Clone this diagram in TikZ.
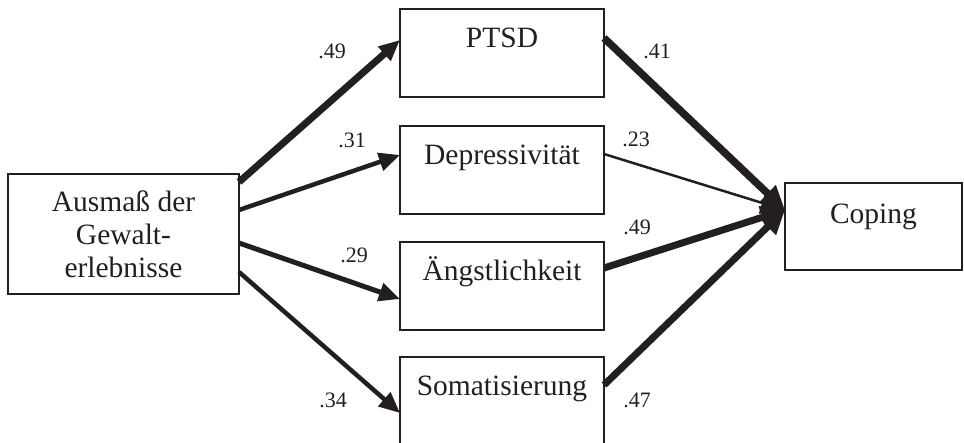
\documentclass[tikz,border=0pt]{standalone}
\usepackage{fontspec}
\setmainfont{Liberation Serif}
\definecolor{inkblack}{RGB}{35,31,32}
\usetikzlibrary{arrows.meta, positioning}

\begin{document}
\begin{tikzpicture}[
  x=1pt, y=-1pt,
  srcbox/.style={draw=inkblack, line width=1.3pt, inner sep=0pt, outer sep=0pt, minimum width=231pt, minimum height=120pt, align=center, text=inkblack, font=\fontsize{29.5}{33}\selectfont},
  varbox/.style={draw=inkblack, line width=1.3pt, inner sep=0pt, outer sep=0pt, minimum width=204pt, text height=38pt, text depth=50pt, text=inkblack, font=\fontsize{29.5}{33}\selectfont},
  numlbl/.style={inner sep=0pt, text=inkblack, font=\fontsize{22}{24}\selectfont},
  effarrow/.style={draw=inkblack, -{Triangle[length=21pt, width=18pt]}},
  bigarrow/.style={draw=inkblack, -{Triangle[length=24pt, width=22pt]}}
]
  \useasboundingbox (0,0) rectangle (964,442);
  \clip (0,0) rectangle (964,442);

  \node[srcbox] (gewalt) at (123.5,234) {Ausmaß der\\Gewalt-\\erlebnisse};

  \node[varbox] (ptsd) at (502,53) {PTSD};
  \node[varbox] (depr) at (502,170) {Depressivität};
  \node[varbox] (angst) at (502,286) {Ängstlichkeit};
  \node[varbox] (somat) at (502,401) {Somatisierung};

  \node[varbox, minimum width=177pt, text height=40pt, text depth=47pt] (coping) at (873.5,226.5) {Coping};

  % Gewalt -> Mediatoren
  \draw[effarrow, line width=7pt] ([yshift=52pt]gewalt.east) -- ([yshift=13pt]ptsd.west);
  \draw[effarrow, line width=4.5pt] ([yshift=24pt]gewalt.east) -- ([yshift=15pt]depr.west);
  \draw[effarrow, line width=5pt] ([yshift=-9pt]gewalt.east) -- ([yshift=-13pt]angst.west);
  \draw[effarrow, line width=4.5pt] ([yshift=-38pt]gewalt.east) -- ([yshift=-12pt]somat.west);

  % Mediatoren -> Coping
  \draw[bigarrow, line width=7.5pt] ([yshift=15pt]ptsd.east) -- ([yshift=16.5pt]coping.west);
  \draw[bigarrow, line width=2.5pt] ([yshift=16pt]depr.east) -- ([yshift=16.5pt]coping.west);
  \draw[bigarrow, line width=7pt] ([yshift=18pt]angst.east) -- ([yshift=16.5pt]coping.west);
  \draw[bigarrow, line width=7pt] ([yshift=16pt]somat.east) -- ([yshift=16.5pt]coping.west);

  \node[numlbl] (a1) at (332,51) {.49};
  \node[numlbl] (a2) at (352,140) {.31};
  \node[numlbl] (a3) at (354,255) {.29};
  \node[numlbl] (a4) at (333,400) {.34};

  \node[numlbl] (b1) at (657,51) {.41};
  \node[numlbl] (b2) at (636,139) {.23};
  \node[numlbl] (b3) at (637,227) {.49};
  \node[numlbl] (b4) at (637,400) {.47};
\end{tikzpicture}
\end{document}
